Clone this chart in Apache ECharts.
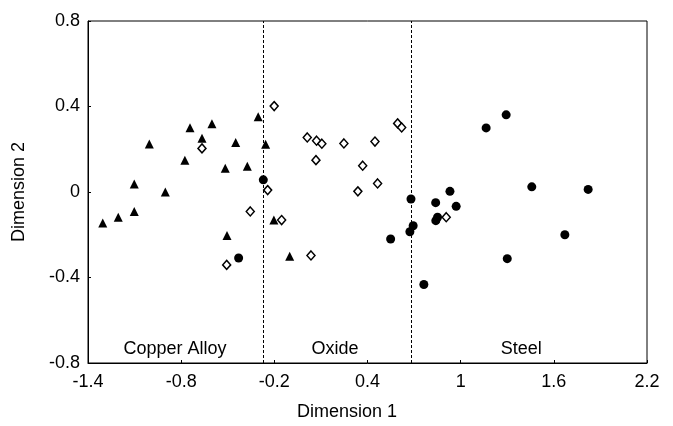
<!DOCTYPE html>
<html>
<head>
<meta charset="utf-8">
<script src="https://cdn.jsdelivr.net/npm/echarts@6/dist/echarts.min.js"></script>
<style>
html,body{margin:0;padding:0;background:#fff;}
#chart{width:673px;height:426px;}
</style>
</head>
<body>
<div id="chart"></div>
<script>
// Copper Alloy (filled triangles)
const copperX = [-1.305,-1.205,-1.102,-1.102,-0.902,-1.005,-0.776,-0.743,-0.666,-0.602,-0.449,-0.516,-0.374,-0.304,-0.256,-0.505,-0.203,-0.101];
const copperY = [-0.145,-0.118,-0.091,0.038,0.000,0.224,0.148,0.301,0.252,0.319,0.232,0.111,0.120,0.352,0.223,-0.203,-0.131,-0.300];
// Steel (filled circles)
const steelX = [-0.271,-0.430,0.680,0.549,0.694,0.673,0.763,0.839,0.931,0.971,0.851,0.840,1.164,1.293,1.458,1.821,1.671,1.300];
const steelY = [0.057,-0.309,-0.033,-0.220,-0.158,-0.186,-0.433,-0.050,0.003,-0.067,-0.118,-0.134,0.300,0.361,0.024,0.012,-0.200,-0.312];
// Oxide (open diamonds)
const oxideX = [-0.666,-0.507,-0.355,-0.243,-0.201,-0.153,0.036,0.012,0.072,0.106,0.248,0.448,0.068,0.369,0.465,0.338,0.594,0.620,0.907];
const oxideY = [0.204,-0.341,-0.091,0.009,0.402,-0.131,-0.297,0.255,0.240,0.226,0.227,0.236,0.149,0.123,0.040,0.003,0.321,0.302,-0.118];
// Group boundaries (dashed verticals)
const boundaries = [-0.27, 0.68];
// Region labels
const regionNames = ['Copper Alloy','Oxide','Steel'];
const regionX = [-0.84, 0.19, 1.39];
const regionY = [-0.735, -0.735, -0.735];
// Tick labels
const xTicks = [-1.4,-0.8,-0.2,0.4,1,1.6,2.2];
const yTicks = [-0.8,-0.4,0,0.4,0.8];

const zip = (xs, ys) => xs.map((x, i) => [x, ys[i]]);
const font = '"Liberation Sans", Arial, Helvetica, sans-serif';
const chart = echarts.init(document.getElementById('chart'), null, {renderer: 'canvas'});
chart.setOption({
  backgroundColor: '#fff',
  animation: false,
  grid: {left: 88, right: 26, top: 21, bottom: 58, show: true, borderColor: '#000', borderWidth: 1, backgroundColor: 'transparent'},
  xAxis: {
    type: 'value', min: -1.4, max: 2.2,
    name: 'Dimension 1', nameLocation: 'middle', nameGap: 40,
    nameTextStyle: {fontFamily: font, fontSize: 18, color: '#000', padding: [0, 41, 0, 0]},
    axisLine: {show: true, onZero: false, lineStyle: {color: '#000', width: 1}},
    axisTick: {show: true, inside: true, length: 3, lineStyle: {color: '#000'}, customValues: xTicks},
    axisLabel: {fontFamily: font, fontSize: 18, color: '#000', margin: 10, customValues: xTicks,
      formatter: v => String(Math.round(v * 10) / 10)},
    splitLine: {show: false}
  },
  yAxis: {
    type: 'value', min: -0.8, max: 0.8,
    name: 'Dimension 2', nameLocation: 'middle', nameGap: 60, nameRotate: 90,
    nameTextStyle: {fontFamily: font, fontSize: 18, color: '#000'},
    axisLine: {show: true, onZero: false, lineStyle: {color: '#000', width: 1}},
    axisTick: {show: true, inside: true, length: 3, lineStyle: {color: '#000'}, customValues: yTicks},
    axisLabel: {fontFamily: font, fontSize: 18, color: '#000', margin: 8, customValues: yTicks,
      formatter: v => String(Math.round(v * 10) / 10)},
    splitLine: {show: false}
  },
  series: [
    {
      name: 'Copper Alloy', type: 'scatter', symbol: 'triangle', symbolSize: 9,
      itemStyle: {color: '#000', opacity: 1},
      data: zip(copperX, copperY),
      markLine: {
        silent: true, symbol: 'none', animation: false,
        label: {show: false},
        lineStyle: {color: '#000', width: 1, type: [3, 2], opacity: 1},
        data: boundaries.map(b => ({xAxis: b}))
      }
    },
    {
      name: 'Oxide', type: 'scatter', symbol: 'diamond', symbolSize: [8, 9],
      itemStyle: {color: '#fff', borderColor: '#000', borderWidth: 1.5, opacity: 1},
      data: zip(oxideX, oxideY)
    },
    {
      name: 'Steel', type: 'scatter', symbol: 'circle', symbolSize: 9,
      itemStyle: {color: '#000', opacity: 1},
      data: zip(steelX, steelY)
    },
    {
      name: 'regions', type: 'scatter', symbolSize: 0, silent: true,
      itemStyle: {opacity: 1},
      label: {show: true, position: 'inside', formatter: p => p.data.name,
        fontFamily: font, fontSize: 18, color: '#000', opacity: 1},
      data: regionNames.map((n, i) => ({name: n, value: [regionX[i], regionY[i]]}))
    }
  ]
});
</script>
</body>
</html>
